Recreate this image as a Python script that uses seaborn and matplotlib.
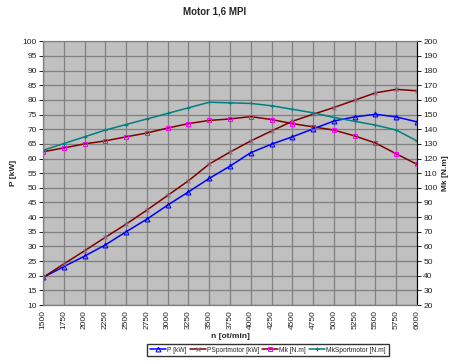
import matplotlib
matplotlib.use("Agg")
import matplotlib.pyplot as plt
import numpy as np
import pandas as pd
import seaborn as sns

# engine speed [ot/min]
rpm = [1500, 1750, 2000, 2250, 2500, 2750, 3000, 3250, 3500, 3750,
       4000, 4250, 4500, 4750, 5000, 5250, 5500, 5750, 6000]

# power [kW] (left axis)
p_kw = [19.4, 23.1, 26.7, 30.5, 35.0, 39.3, 44.1, 48.6, 53.2, 57.4,
        62.0, 64.9, 67.4, 70.1, 72.8, 74.2, 75.1, 74.2, 72.5]
p_sport_kw = [19.4, 24.0, 28.5, 33.1, 37.6, 42.4, 47.4, 52.4, 58.1, 62.2,
              66.0, 69.4, 72.7, 75.1, 77.4, 79.9, 82.4, 83.6, 83.1]

# torque [N.m] (right axis)
mk_nm = [124.6, 127.2, 130.0, 132.0, 134.8, 137.4, 140.8, 143.8, 146.0, 147.0,
         148.6, 146.6, 143.8, 141.6, 139.4, 135.4, 130.6, 123.2, 116.0]
mk_sport_nm = [125.6, 130.2, 134.8, 139.4, 143.2, 147.0, 150.8, 154.6, 158.4, 158.0,
               157.6, 156.0, 153.6, 151.2, 148.0, 145.4, 142.8, 139.4, 132.0]

labels = ["P [kW]", "PSportmotor [kW]", "Mk [N.m]", "MkSportmotor [N.m]"]

sns.set_style("white")
plt.rcParams["font.family"] = ["Liberation Sans", "DejaVu Sans"]

df = pd.DataFrame({"rpm": rpm, "P": p_kw, "PS": p_sport_kw,
                   "Mk": mk_nm, "MkS": mk_sport_nm})

fig = plt.figure(figsize=(4.73, 3.62), dpi=100)
ax = fig.add_axes([43 / 473, 1 - 305 / 362, (417 - 43) / 473, (305 - 41.3) / 362])
ax.set_facecolor("#C0C0C0")
ax2 = ax.twinx()

sns.lineplot(data=df, x="rpm", y="P", ax=ax, color="#0000FF", lw=1.1,
             marker="^", markersize=3.5, markerfacecolor="none",
             markeredgecolor="#0000FF", label=labels[0], legend=False)
sns.lineplot(data=df, x="rpm", y="PS", ax=ax, color="#800000", lw=1.1,
             marker="x", markersize=3.5, markeredgecolor="#8a6a8a",
             label=labels[1], legend=False)
sns.lineplot(data=df, x="rpm", y="Mk", ax=ax2, color="#800000", lw=1.1,
             marker="s", markersize=3.2, markerfacecolor="none",
             markeredgecolor="#FF00FF", label=labels[2], legend=False)
sns.lineplot(data=df, x="rpm", y="MkS", ax=ax2, color="#008080", lw=1.1,
             marker="+", markersize=3, markeredgecolor="#008080",
             label=labels[3], legend=False)

ax.set_xlim(1500, 6000)
ax.set_ylim(10, 100)
ax2.set_ylim(20, 200)
ax.set_xticks(rpm)
ax.set_yticks(np.arange(10, 101, 5))
ax2.set_yticks(np.arange(20, 201, 10))
ax.set_xticklabels([str(r) for r in rpm], rotation=90)

ax.grid(True, color="#808080", lw=0.9)
ax.set_axisbelow(True)
for a in (ax, ax2):
    for s in a.spines.values():
        s.set_color("#808080")
    a.tick_params(labelsize=6, length=3, width=0.6, color="black",
                  pad=1.5, labelcolor="#222222")
ax.spines["left"].set_color("black")
ax2.spines["right"].set_color("black")
ax.spines["bottom"].set_color("black")
ax.tick_params(axis="x", direction="inout", length=4)

ax.set_xlabel("n [ot/min]", fontsize=6, fontweight="bold", labelpad=3)
ax.set_ylabel("P [kW]", fontsize=6, fontweight="bold", labelpad=4)
ax2.set_ylabel("Mk [N.m]", fontsize=6, fontweight="bold", labelpad=3)

fig.text(215 / 473, 1 - 12 / 362, "Motor 1,6 MPI", ha="center", va="center",
         fontsize=7, fontweight="bold")

handles = ax.get_lines()[:2] + ax2.get_lines()[:2]
fig.legend(handles, labels, loc="center", bbox_to_anchor=(268 / 473, 1 - 350 / 362),
           ncol=4, fontsize=4.8, frameon=True, fancybox=False, edgecolor="black",
           handlelength=2.4, handletextpad=0.2, columnspacing=0.4,
           borderpad=0.4, borderaxespad=0)

fig.savefig("out.png", dpi=100)
